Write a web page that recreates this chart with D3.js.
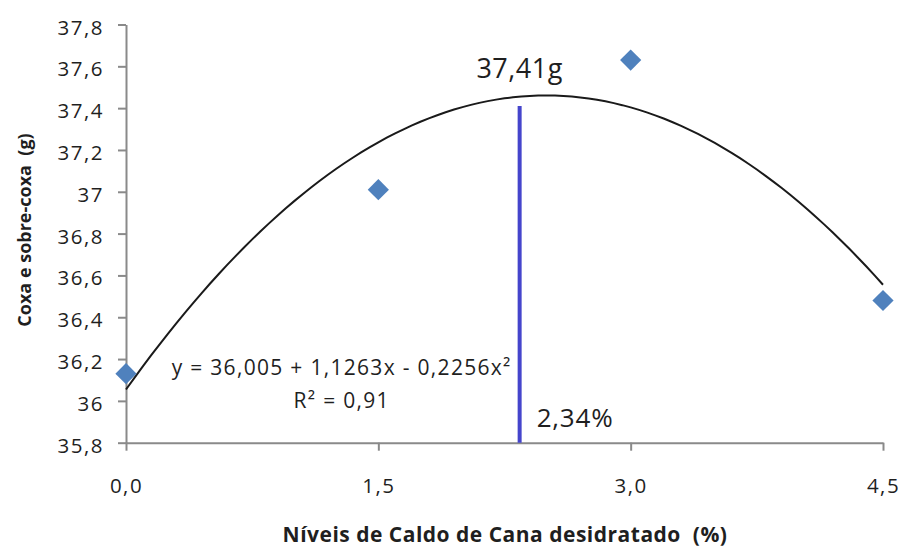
<!DOCTYPE html>
<html>
<head>
<meta charset="utf-8">
<script src="https://cdn.jsdelivr.net/npm/d3@7"></script>
<style>
  body { margin: 0; background: #fff; }
  svg { display: block; }
  text { font-family: "Open Sans", sans-serif; fill: #1f1f1f; white-space: pre; }
</style>
</head>
<body>
<svg id="chart" width="901" height="548"></svg>
<script>
// Observed weights of thigh + drumstick per inclusion level
const levels = [0, 1.5, 3.0, 4.5];
const weights = [36.13, 37.01, 37.63, 36.48];

// Axis ticks
const xTicks = [0, 1.5, 3.0, 4.5];
const yTicks = [35.8, 36, 36.2, 36.4, 36.6, 36.8, 37, 37.2, 37.4, 37.6, 37.8];

// Optimum of the fitted curve, as reported
const optimumLevel = 2.34;
const optimumWeight = 37.41;

// Regression annotation
const equationLabel = "y = 36,005 + 1,1263x - 0,2256x²";
const r2Label = "R² = 0,91";

const xTitle = "Níveis de Caldo de Cana desidratado  (%)";
const yTitle = "Coxa e sobre-coxa  (g)";

const svg = d3.select("#chart");

const x = d3.scaleLinear().domain([0, 4.5]).range([126, 883]);
const y = d3.scaleLinear().domain([35.8, 37.8]).range([442.7, 24.5]);

const comma = s => s.replace(".", ",");
const axisColor = "#8a8a8a";

// Y axis
const gy = svg.append("g")
  .attr("transform", `translate(${x(0)},0)`)
  .call(d3.axisLeft(y).tickValues(yTicks).tickSize(8).tickSizeOuter(0).tickPadding(14)
    .tickFormat(d => comma(String(+d.toFixed(1)))));
gy.select(".domain").attr("stroke", axisColor).attr("stroke-width", 2);
gy.selectAll(".tick line").attr("stroke", axisColor).attr("stroke-width", 2);
gy.selectAll(".tick text")
  .attr("dy", 9.5)
  .style("font-size", "20.5px")
  .style("letter-spacing", "1.5px")
  .style("fill", "#1f1f1f");

// X axis
const gx = svg.append("g")
  .attr("transform", `translate(0,${y(35.8)})`)
  .call(d3.axisBottom(x).tickValues(xTicks).tickSize(8).tickSizeOuter(0)
    .tickFormat(d => comma(d.toFixed(1))));
gx.select(".domain").attr("stroke", axisColor).attr("stroke-width", 2);
gx.selectAll(".tick line").attr("stroke", axisColor).attr("stroke-width", 2);
gx.selectAll(".tick text")
  .attr("y", 50.5).attr("dy", 0)
  .style("font-size", "20.5px")
  .style("letter-spacing", "1.5px")
  .style("fill", "#1f1f1f");

// Quadratic least-squares trendline through the observed points
function quadFit(xs, ys) {
  const s = [0, 0, 0, 0, 0], t = [0, 0, 0];
  xs.forEach((xi, i) => {
    for (let k = 0; k <= 4; k++) s[k] += Math.pow(xi, k);
    for (let k = 0; k <= 2; k++) t[k] += Math.pow(xi, k) * ys[i];
  });
  const A = [[s[0], s[1], s[2], t[0]], [s[1], s[2], s[3], t[1]], [s[2], s[3], s[4], t[2]]];
  for (let i = 0; i < 3; i++) {
    for (let j = i + 1; j < 3; j++) {
      const f = A[j][i] / A[i][i];
      for (let k = i; k < 4; k++) A[j][k] -= f * A[i][k];
    }
  }
  const c = [0, 0, 0];
  for (let i = 2; i >= 0; i--) {
    let v = A[i][3];
    for (let k = i + 1; k < 3; k++) v -= A[i][k] * c[k];
    c[i] = v / A[i][i];
  }
  return c;
}
const coef = quadFit(levels, weights);
const curveX = d3.range(0, 4.5001, 0.05);
const line = d3.line().x(d => x(d)).y(d => y(coef[0] + coef[1] * d + coef[2] * d * d));
svg.append("path")
  .datum(curveX)
  .attr("d", line)
  .attr("fill", "none")
  .attr("stroke", "#1a1a1a")
  .attr("stroke-width", 2);

// Optimum marker
svg.append("line")
  .attr("x1", x(optimumLevel)).attr("x2", x(optimumLevel))
  .attr("y1", y(35.8)).attr("y2", y(optimumWeight))
  .attr("stroke", "#4545cc")
  .attr("stroke-width", 4);

svg.append("text")
  .attr("x", x(optimumLevel)).attr("y", 77.5)
  .attr("text-anchor", "middle")
  .style("font-size", "27px")
  .style("letter-spacing", "0.5px")
  .text(comma(optimumWeight.toFixed(2)) + "g");

svg.append("text")
  .attr("x", x(optimumLevel) + 17).attr("y", 426.5)
  .style("font-size", "26px")
  .style("letter-spacing", "0.8px")
  .text(comma(optimumLevel.toFixed(2)) + "%");

// Observed points
svg.append("g").selectAll("path")
  .data(levels.map((l, i) => [l, weights[i]]))
  .join("path")
  .attr("d", d3.symbol().type(d3.symbolSquare).size(225))
  .attr("transform", d => `translate(${x(d[0])},${y(d[1])}) rotate(45)`)
  .attr("fill", "#4f81bd");

// Regression equation
svg.append("text")
  .attr("x", 341.7).attr("y", 375)
  .attr("text-anchor", "middle")
  .style("font-size", "21px")
  .style("letter-spacing", "1.3px")
  .text(equationLabel);
svg.append("text")
  .attr("x", 341.7).attr("y", 408.3)
  .attr("text-anchor", "middle")
  .style("font-size", "21px")
  .style("letter-spacing", "1.3px")
  .text(r2Label);

// Axis titles
svg.append("text")
  .attr("x", 505).attr("y", 542)
  .attr("text-anchor", "middle")
  .style("font-size", "21px")
  .style("letter-spacing", "0.5px")
  .style("font-weight", "bold")
  .text(xTitle);
svg.append("text")
  .attr("transform", "translate(31,230) rotate(-90)")
  .attr("text-anchor", "middle")
  .style("font-size", "18px")
  .style("font-weight", "bold")
  .text(yTitle);
</script>
</body>
</html>
